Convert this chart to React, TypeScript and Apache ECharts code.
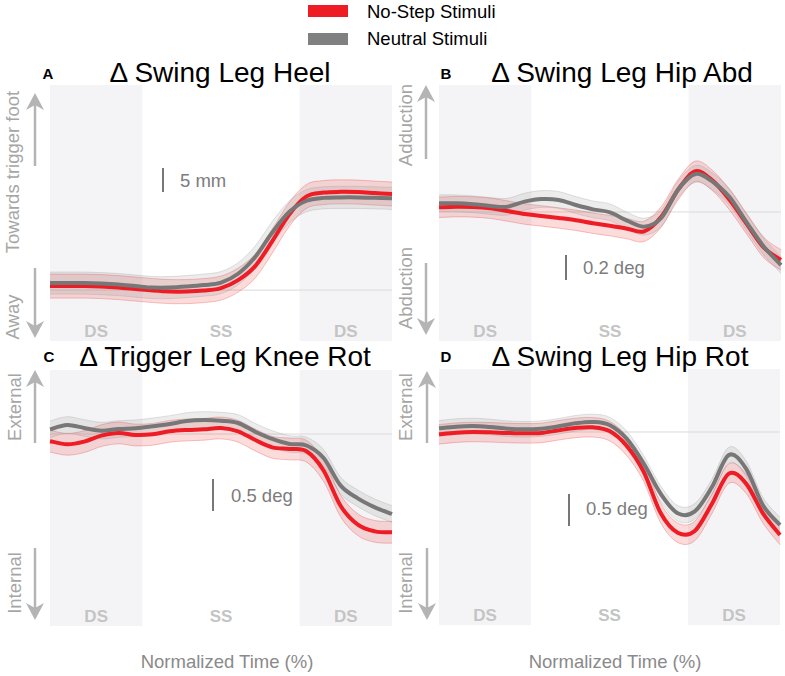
import React, { useEffect, useRef } from "react";
import * as echarts from "echarts";

// ---------- data ----------
const time = [0, 5, 10, 15, 20, 25, 30, 35, 40, 45, 50, 55, 60, 65, 70, 75, 80, 85, 90, 95, 100];

// A: Δ Swing Leg Heel (mm)
const heelNoStep = [0.83, 0.83, 0.83, 0.73, 0.52, 0.21, -0.1, -0.31, -0.31, -0.1, 0.42, 2.08, 5.0, 10.2, 15.8, 19.5, 20.3, 20.45, 20.4, 20.2, 20.0];
const heelNeutral = [1.46, 1.46, 1.46, 1.35, 1.15, 0.83, 0.52, 0.52, 0.73, 1.04, 1.56, 3.4, 6.9, 12.0, 16.3, 18.6, 19.2, 19.3, 19.3, 19.2, 19.1];

// B: Δ Swing Leg Hip Abd (deg)
const hipAbdNoStep = [0.039, 0.044, 0.042, 0.031, 0.008, -0.017, -0.033, -0.05, -0.069, -0.094, -0.114, -0.139, -0.161, -0.04, 0.19, 0.339, 0.261, 0.1, -0.1, -0.297, -0.4];
const hipAbdNeutral = [0.072, 0.072, 0.064, 0.05, 0.044, 0.086, 0.108, 0.1, 0.058, 0.022, -0.003, -0.072, -0.122, -0.05, 0.19, 0.317, 0.253, 0.122, -0.089, -0.289, -0.442];

// C: Δ Trigger Leg Knee Rot (deg)
const kneeRotNoStep = [-0.112, -0.161, -0.12, -0.026, 0.016, -0.016, -0.005, 0.042, 0.063, 0.073, 0.094, 0.042, -0.094, -0.208, -0.234, -0.27, -0.57, -1.125, -1.417, -1.521, -1.536];
const kneeRotNeutral = [0.073, 0.141, 0.094, 0.052, 0.078, 0.089, 0.12, 0.156, 0.203, 0.219, 0.208, 0.172, 0.036, -0.078, -0.156, -0.18, -0.375, -0.807, -1.005, -1.146, -1.25];

// D: Δ Swing Leg Hip Rot (deg)
const hipRotNoStep = [-0.036, -0.01, 0, -0.005, -0.015, -0.021, -0.015, 0.026, 0.062, 0.072, 0.015, -0.21, -0.61, -1.246, -1.549, -1.523, -1.108, -0.64, -0.79, -1.251, -1.585];
const hipRotNeutral = [0.056, 0.082, 0.092, 0.077, 0.051, 0.041, 0.051, 0.087, 0.133, 0.154, 0.108, -0.103, -0.482, -0.949, -1.251, -1.221, -0.851, -0.355, -0.559, -1.128, -1.431];

// confidence half-widths per panel (A, B, C, D)
const ciNoStep = [2.5, 0.085, 0.17, 0.15];
const ciNeutral = [2.3, 0.07, 0.13, 0.12];

// gait phases (normalized time %)
const phaseNames = ["DS", "SS", "DS"];
const phaseBounds = [0, 27, 73, 100];

const titles = ["Δ Swing Leg Heel", "Δ Swing Leg Hip Abd", "Δ Trigger Leg Knee Rot", "Δ Swing Leg Hip Rot"];
const panelLetters = ["A", "B", "C", "D"];
const legendNames = ["No-Step Stimuli", "Neutral Stimuli"];
const scaleLabels = ["5 mm", "0.2 deg", "0.5 deg", "0.5 deg"];
const dirLabels = [
  ["Towards trigger foot", "Away"],
  ["Adduction", "Abduction"],
  ["External", "Internal"],
  ["External", "Internal"],
];
const xLabel = "Normalized Time (%)";

// ---------- styling / layout ----------
const FONT = "'Liberation Sans', Arial, Helvetica, sans-serif";
const RED = "#ee1c24";
const GRAY = "#777777";

const layout = [
  { left: 50, top: 85, width: 342, height: 256, yMin: -10.6, yMax: 42.7 },
  { left: 439, top: 85, width: 342, height: 256, yMin: -1.075, yMax: 1.058 },
  { left: 50, top: 370, width: 342, height: 256, yMin: -3.0, yMax: 1.0 },
  { left: 439, top: 369, width: 341, height: 256, yMin: -2.969, yMax: 0.969 },
];

const seriesSets = [
  [heelNoStep, heelNeutral],
  [hipAbdNoStep, hipAbdNeutral],
  [kneeRotNoStep, kneeRotNeutral],
  [hipRotNoStep, hipRotNeutral],
];

// Catmull-Rom spline through pixel points -> SVG path commands
function splinePath(pts: number[][], start: "M" | "L") {
  let d = `${start}${pts[0][0]},${pts[0][1]}`;
  const n = pts.length;
  for (let i = 0; i < n - 1; i++) {
    const p0 = pts[Math.max(i - 1, 0)];
    const p1 = pts[i];
    const p2 = pts[i + 1];
    const p3 = pts[Math.min(i + 2, n - 1)];
    const c1x = p1[0] + (p2[0] - p0[0]) / 6;
    const c1y = p1[1] + (p2[1] - p0[1]) / 6;
    const c2x = p2[0] - (p3[0] - p1[0]) / 6;
    const c2y = p2[1] - (p3[1] - p1[1]) / 6;
    d += ` C${c1x},${c1y} ${c2x},${c2y} ${p2[0]},${p2[1]}`;
  }
  return d;
}

function bandSeries(i: number, vals: number[], ci: number, fill: string, edge: string, z: number) {
  return {
    type: "custom",
    xAxisIndex: i,
    yAxisIndex: i,
    silent: true,
    z,
    data: time.map((t, k) => [t, vals[k] - ci, vals[k] + ci]),
    encode: { x: 0, y: [1, 2] },
    renderItem: (params: any, api: any) => {
      if (params.dataIndex !== 0) return null;
      const upper = time.map((t, k) => api.coord([t, vals[k] + ci]));
      const lower = time.map((t, k) => api.coord([t, vals[k] - ci]));
      const lowerRev = lower.slice().reverse();
      const fillPath = splinePath(upper, "M") + " " + splinePath(lowerRev, "L") + " Z";
      return {
        type: "group",
        children: [
          { type: "path", shape: { pathData: fillPath }, style: { fill, stroke: "none" } },
          { type: "path", shape: { pathData: splinePath(upper, "M") }, style: { fill: "none", stroke: edge, lineWidth: 0.8 } },
          { type: "path", shape: { pathData: splinePath(lower, "M") }, style: { fill: "none", stroke: edge, lineWidth: 0.8 } },
        ],
      };
    },
  };
}

function meanSeries(i: number, name: string, vals: number[], color: string, z: number) {
  return {
    type: "custom",
    name,
    xAxisIndex: i,
    yAxisIndex: i,
    silent: true,
    z,
    data: time.map((t, k) => [t, vals[k]]),
    encode: { x: 0, y: 1 },
    renderItem: (params: any, api: any) => {
      if (params.dataIndex !== 0) return null;
      const pts = time.map((t, k) => api.coord([t, vals[k]]));
      return {
        type: "path",
        shape: { pathData: splinePath(pts, "M") },
        style: { fill: "none", stroke: color, lineWidth: 4, lineJoin: "round" },
      };
    },
  };
}

function arrowGraphics(x: number, upTip: number, upBottom: number, downTop: number, downTip: number) {
  const color = "#b4b4b4";
  const hw = 9;
  const hl = 17;
  const notch = 5;
  return [
    { type: "line", z: 10, shape: { x1: x, y1: upTip + hl - notch, x2: x, y2: upBottom }, style: { stroke: color, lineWidth: 2.5 } },
    {
      type: "polygon", z: 10,
      shape: { points: [[x, upTip], [x + hw, upTip + hl], [x, upTip + hl - notch], [x - hw, upTip + hl]] },
      style: { fill: color },
    },
    { type: "line", z: 10, shape: { x1: x, y1: downTop, x2: x, y2: downTip - hl + notch }, style: { stroke: color, lineWidth: 2.5 } },
    {
      type: "polygon", z: 10,
      shape: { points: [[x, downTip], [x + hw, downTip - hl], [x, downTip - hl + notch], [x - hw, downTip - hl]] },
      style: { fill: color },
    },
  ];
}

function text(t: string, x: number, y: number, opts: any = {}) {
  return {
    type: "text",
    z: 10,
    x,
    y,
    rotation: opts.rotation || 0,
    style: {
      text: t,
      fill: opts.fill || "#000",
      fontSize: opts.fontSize || 18,
      fontWeight: opts.fontWeight || "normal",
      fontFamily: FONT,
      align: opts.align || "center",
      verticalAlign: "middle",
    },
  };
}

export default function App() {
  const ref = useRef<HTMLDivElement>(null);

  useEffect(() => {
    if (!ref.current) return;
    const chart = echarts.init(ref.current, undefined, { renderer: "svg" });

    const grid = layout.map((l) => ({ left: l.left, top: l.top, width: l.width, height: l.height, containLabel: false }));
    const xAxis = layout.map((_, i) => ({ type: "value", gridIndex: i, min: 0, max: 100, show: false }));
    const yAxis = layout.map((l, i) => ({ type: "value", gridIndex: i, min: l.yMin, max: l.yMax, show: false }));

    const series: any[] = [];
    seriesSets.forEach(([noStep, neutral], i) => {
      // zero line + phase shading
      series.push({
        type: "line",
        xAxisIndex: i,
        yAxisIndex: i,
        data: [[0, 0], [100, 0]],
        symbol: "none",
        silent: true,
        z: 1,
        lineStyle: { color: "#dadada", width: 1 },
        markArea: {
          silent: true,
          data: phaseNames.map((name, k) => [
            {
              name,
              xAxis: phaseBounds[k],
              itemStyle: { color: name === "DS" ? "#f4f4f6" : "rgba(255,255,255,0)" },
            },
            { xAxis: phaseBounds[k + 1] },
          ]),
          label: {
            show: true,
            position: "insideBottom",
            distance: 1,
            color: "#c4c4c4",
            fontSize: 17,
            fontWeight: "bold",
            fontFamily: FONT,
          },
        },
      });

      series.push(bandSeries(i, noStep, ciNoStep[i], "rgba(238,40,40,0.17)", "rgba(230,40,40,0.35)", 2));
      series.push(bandSeries(i, neutral, ciNeutral[i], "rgba(150,150,150,0.18)", "rgba(150,150,150,0.35)", 3));
      series.push(meanSeries(i, legendNames[0], noStep, RED, 4));
      series.push(meanSeries(i, legendNames[1], neutral, GRAY, 5));
    });

    const axisText = "#a6a6a6";
    const graphics: any[] = [
      // legend
      { type: "rect", z: 10, shape: { x: 308, y: 5, width: 40, height: 12 }, style: { fill: RED } },
      { type: "rect", z: 10, shape: { x: 308, y: 33, width: 40, height: 12 }, style: { fill: "#808080" } },
      text(legendNames[0], 367, 11, { align: "left", fontSize: 18.5 }),
      text(legendNames[1], 367, 38, { align: "left", fontSize: 18.5 }),

      // titles
      text(titles[0], 220, 72, { fontSize: 28 }),
      text(titles[1], 622, 72, { fontSize: 28 }),
      text(titles[2], 225, 356, { fontSize: 28 }),
      text(titles[3], 620, 356, { fontSize: 28 }),

      // panel letters
      text(panelLetters[0], 48, 73.5, { fontSize: 15, fontWeight: "bold" }),
      text(panelLetters[1], 446, 73.5, { fontSize: 15, fontWeight: "bold" }),
      text(panelLetters[2], 49, 356.5, { fontSize: 15, fontWeight: "bold" }),
      text(panelLetters[3], 446, 356.5, { fontSize: 15, fontWeight: "bold" }),

      // direction labels
      text(dirLabels[0][0], 12, 172, { rotation: Math.PI / 2, fill: axisText, fontSize: 18.5 }),
      text(dirLabels[0][1], 12, 317, { rotation: Math.PI / 2, fill: axisText, fontSize: 18.5 }),
      text(dirLabels[1][0], 405, 125, { rotation: Math.PI / 2, fill: axisText, fontSize: 18.5 }),
      text(dirLabels[1][1], 405, 288, { rotation: Math.PI / 2, fill: axisText, fontSize: 18.5 }),
      text(dirLabels[2][0], 14, 407, { rotation: Math.PI / 2, fill: axisText, fontSize: 18.5 }),
      text(dirLabels[2][1], 14, 583, { rotation: Math.PI / 2, fill: axisText, fontSize: 18.5 }),
      text(dirLabels[3][0], 405, 407, { rotation: Math.PI / 2, fill: axisText, fontSize: 18.5 }),
      text(dirLabels[3][1], 405, 583, { rotation: Math.PI / 2, fill: axisText, fontSize: 18.5 }),

      ...arrowGraphics(35, 93, 166, 268, 338),
      ...arrowGraphics(426, 85, 159, 263, 335),
      ...arrowGraphics(35, 370, 443, 548, 620),
      ...arrowGraphics(427, 371, 443, 548, 620),

      // scale bars
      { type: "line", z: 10, shape: { x1: 163, y1: 168, x2: 163, y2: 192 }, style: { stroke: "#777", lineWidth: 2 } },
      { type: "line", z: 10, shape: { x1: 566, y1: 255, x2: 566, y2: 280 }, style: { stroke: "#777", lineWidth: 2 } },
      { type: "line", z: 10, shape: { x1: 213, y1: 479, x2: 213, y2: 511 }, style: { stroke: "#777", lineWidth: 2 } },
      { type: "line", z: 10, shape: { x1: 569, y1: 494, x2: 569, y2: 526 }, style: { stroke: "#777", lineWidth: 2 } },
      text(scaleLabels[0], 180, 180, { align: "left", fill: "#7c7c7c", fontSize: 18.5 }),
      text(scaleLabels[1], 583, 267, { align: "left", fill: "#7c7c7c", fontSize: 18.5 }),
      text(scaleLabels[2], 231, 495, { align: "left", fill: "#7c7c7c", fontSize: 18.5 }),
      text(scaleLabels[3], 586, 508, { align: "left", fill: "#7c7c7c", fontSize: 18.5 }),

      // x labels
      text(xLabel, 227, 661, { fill: "#8a8a8a", fontSize: 18.5 }),
      text(xLabel, 615, 661, { fill: "#8a8a8a", fontSize: 18.5 }),
    ];

    chart.setOption({
      animation: false,
      backgroundColor: "#ffffff",
      textStyle: { fontFamily: FONT },
      grid,
      xAxis,
      yAxis,
      series,
      graphic: { elements: graphics },
    });

    return () => chart.dispose();
  }, []);

  return (
    <div
      ref={ref}
      style={{ position: "fixed", left: 0, top: 0, width: 785, height: 676, background: "#fff" }}
    />
  );
}
